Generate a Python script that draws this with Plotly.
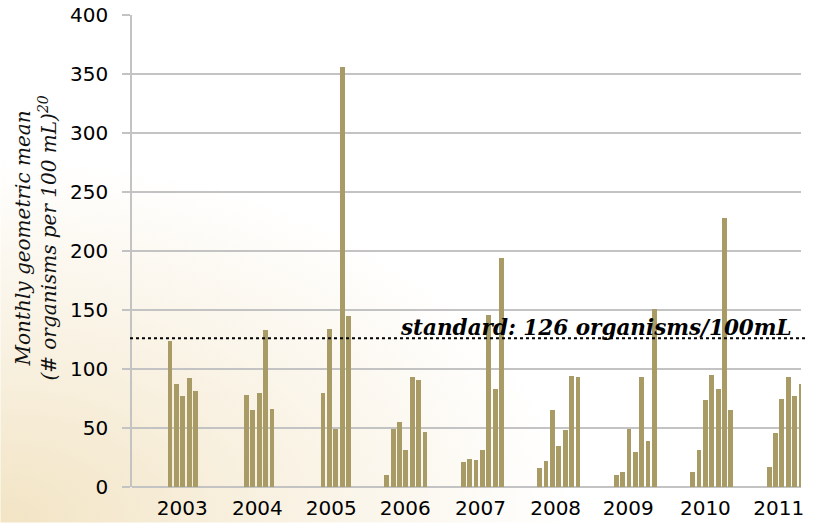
import plotly.graph_objects as go
import urllib.parse

# ---- data ----
years = [2003, 2004, 2005, 2006, 2007, 2008, 2009, 2010, 2011]
# month numbers (1=Jan) sampled each year
months_by_year = {
    2003: [6, 7, 8, 9, 10],
    2004: [6, 7, 8, 9, 10],
    2005: [6, 7, 8, 9, 10],
    2006: [4, 5, 6, 7, 8, 9, 10],
    2007: [4, 5, 6, 7, 8, 9, 10],
    2008: [4, 5, 6, 7, 8, 9, 10],
    2009: [4, 5, 6, 7, 8, 9, 10],
    2010: [4, 5, 6, 7, 8, 9, 10],
    2011: [4, 5, 6, 7, 8, 9],
}
values_2003 = [124, 87, 77, 92, 81]
values_2004 = [78, 65, 80, 133, 66]
values_2005 = [80, 134, 49, 356, 145]
values_2006 = [10, 49, 55, 31, 93, 91, 47]
values_2007 = [21, 24, 23, 31, 146, 83, 194]
values_2008 = [16, 22, 65, 35, 48, 94, 93]
values_2009 = [10, 13, 49, 30, 93, 39, 151]
values_2010 = [13, 31, 74, 95, 83, 228, 65]
values_2011 = [17, 46, 75, 93, 77, 87]
values_by_year = {
    2003: values_2003, 2004: values_2004, 2005: values_2005,
    2006: values_2006, 2007: values_2007, 2008: values_2008,
    2009: values_2009, 2010: values_2010, 2011: values_2011,
}
standard = 126
year_labels = [str(y) for y in years]
# label positions on the monthly axis (months since Jan 2003)
year_label_pos = [6.9, 18.7, 30.3, 41.9, 53.7, 65.5, 76.9, 89.0, 100.5]

x_vals, y_vals = [], []
for y in years:
    for m, v in zip(months_by_year[y], values_by_year[y]):
        x_vals.append((y - 2003) * 12 + (m - 1))
        y_vals.append(v)

BAR = "#a99b65"
GRID = "#c3c3c3"

fig = go.Figure()
fig.add_trace(go.Bar(x=x_vals, y=y_vals, width=0.76,
                     marker=dict(color=BAR, line=dict(width=0)),
                     hoverinfo="y", showlegend=False))

# standard line
fig.add_shape(type="line", xref="paper", yref="y", x0=-0.003, x1=1.006,
              y0=standard, y1=standard,
              line=dict(color="black", width=2, dash="dot"))
fig.add_annotation(xref="paper", yref="y", x=0.989, y=standard,
                   xanchor="right", yanchor="bottom", yshift=-4,
                   text="<b><i>standard: 126 organisms/100mL</i></b>",
                   showarrow=False,
                   font=dict(family="DejaVu Serif", size=21.5, color="black"))

# y-axis title
fig.add_annotation(xref="paper", yref="paper", x=-0.143, y=0.527,
                   xanchor="center", yanchor="middle", textangle=-90,
                   text="<i>Monthly geometric mean<br>(# organisms per 100 mL)<sup>20</sup></i>",
                   showarrow=False,
                   font=dict(family="DejaVu Serif", size=20, color="#111111"))

svg = ("<svg xmlns='http://www.w3.org/2000/svg' width='817' height='523'>"
       "<defs><radialGradient id='g' cx='0' cy='1' r='0.7'>"
       "<stop offset='0' stop-color='#f2e4c4'/>"
       "<stop offset='0.5' stop-color='#f9f2e3'/>"
       "<stop offset='1' stop-color='#ffffff'/>"
       "</radialGradient></defs>"
       "<rect width='817' height='523' fill='url(#g)'/></svg>")
src = "data:image/svg+xml;charset=utf-8," + urllib.parse.quote(svg)

L, R, T, B = 131.7, 16.3, 14.6, 35.7
pw = 817 - L - R
ph = 523 - T - B
fig.add_layout_image(source=src, xref="paper", yref="paper",
                     x=-L / pw, y=1 + T / ph, sizex=817 / pw, sizey=523 / ph,
                     xanchor="left", yanchor="top", sizing="stretch",
                     layer="below")

fig.update_layout(
    width=817, height=523,
    margin=dict(l=L, r=R, t=T, b=B, pad=0),
    paper_bgcolor="white", plot_bgcolor="white",
    bargap=0,
    xaxis=dict(range=[-0.97, 104.0], tickmode="array",
               tickvals=year_label_pos, ticktext=year_labels,
               showgrid=False, zeroline=False, showline=False,
               ticks="", ticklabelstandoff=7, automargin=False,
               tickfont=dict(family="DejaVu Sans", size=20, color="#000000")),
    yaxis=dict(range=[0, 400], tickmode="array",
               tickvals=[0, 50, 100, 150, 200, 250, 300, 350, 400],
               showgrid=True, gridcolor=GRID, gridwidth=1.5,
               zeroline=True, zerolinecolor=GRID, zerolinewidth=1.5,
               showline=True, linecolor=GRID, linewidth=1.5,
               ticks="outside", ticklen=8, tickcolor=GRID, tickwidth=1.5,
               ticklabelstandoff=10, automargin=False,
               tickfont=dict(family="DejaVu Sans", size=20, color="#000000")),
)

fig.write_html("out.html",
               config={"displayModeBar": False},
               post_script="document.body.style.margin='0px';"
                           "document.body.style.overflow='hidden';")
